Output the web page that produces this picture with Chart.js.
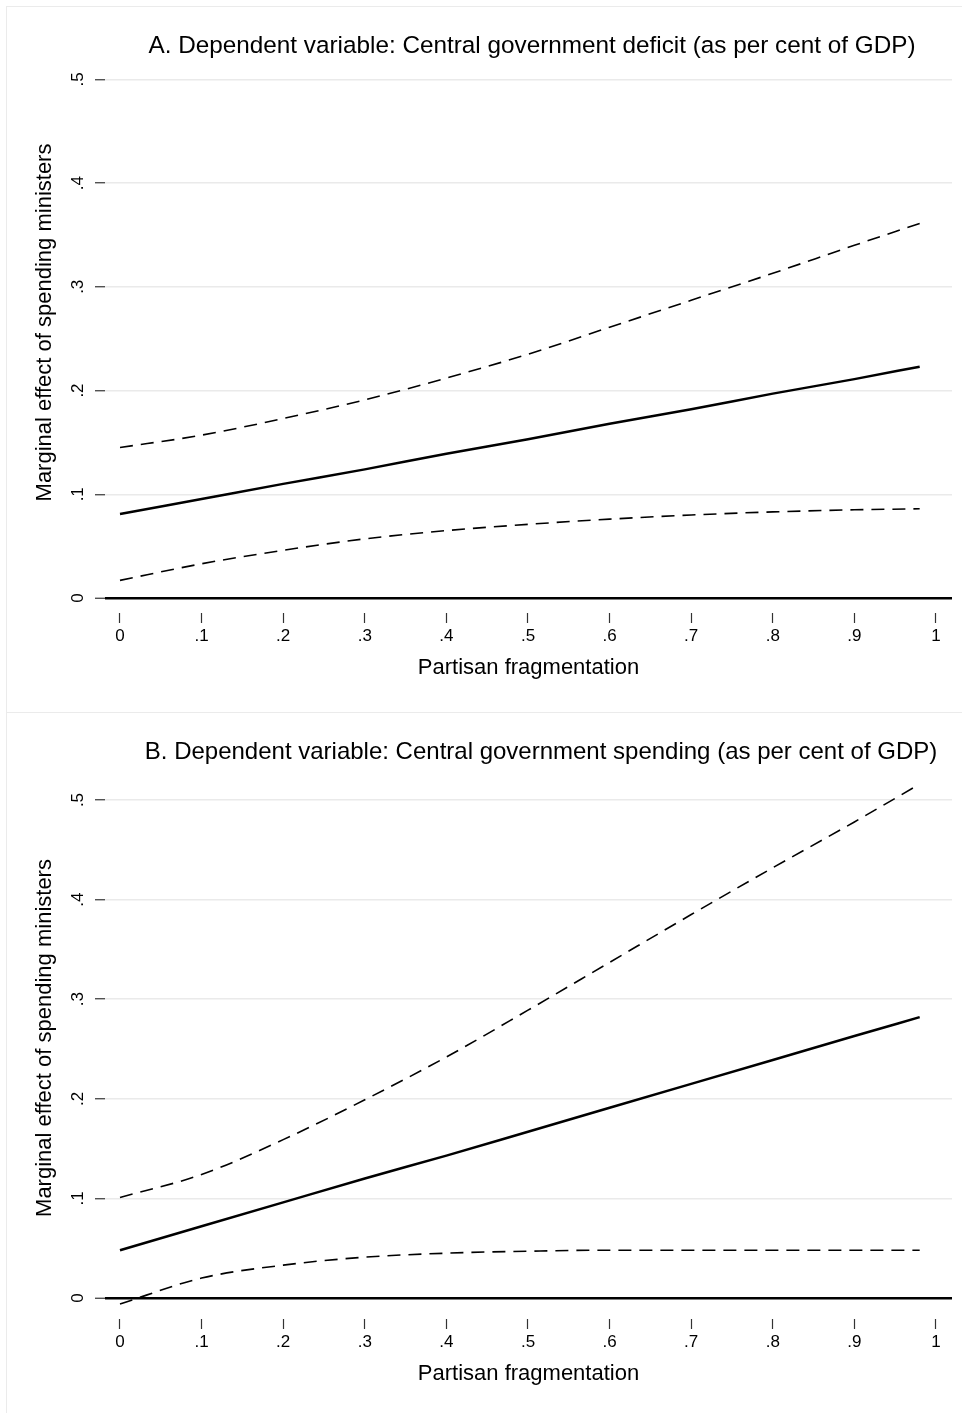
<!DOCTYPE html>
<html>
<head>
<meta charset="utf-8">
<title>Marginal effect of spending ministers</title>
<script src="https://cdn.jsdelivr.net/npm/chart.js@4.4.1/dist/chart.umd.min.js"></script>
<style>
  html, body { margin: 0; padding: 0; background: #fff; overflow: hidden; }
  body { width: 962px; height: 1413px; position: relative; }
  .frame { position: absolute; box-sizing: border-box; border: 1px solid #ebebeb; }
  #frameA { left: 6px; top: 6px; width: 980px; height: 707px; }
  #frameB { left: 6px; top: 712px; width: 980px; height: 720px; }
  canvas { position: absolute; left: 0; }
  #chartA { top: 0; }
  #chartB { top: 712px; }
</style>
</head>
<body>
<div class="frame" id="frameA"></div>
<div class="frame" id="frameB"></div>
<canvas id="chartA" width="962" height="712"></canvas>
<canvas id="chartB" width="962" height="701"></canvas>
<script>
// Partisan fragmentation values the effects were evaluated at
const fragX = [0, 0.1, 0.2, 0.3, 0.4, 0.5, 0.6, 0.7, 0.8, 0.9, 0.98];

// Panel A: deficit
const deficitEffect = [0.081, 0.0955, 0.110, 0.124, 0.139, 0.153, 0.168, 0.182, 0.197, 0.211, 0.223];
const deficitUpper = [0.145, 0.157, 0.173, 0.191, 0.212, 0.235, 0.261, 0.287, 0.313, 0.340, 0.361];
const deficitLower = [0.017, 0.033, 0.046, 0.057, 0.065, 0.071, 0.076, 0.080, 0.083, 0.085, 0.086];

// Panel B: spending
const spendingEffect = [0.048, 0.072, 0.096, 0.120, 0.143, 0.167, 0.191, 0.215, 0.239, 0.263, 0.282];
const spendingUpper = [0.101, 0.124, 0.159, 0.199, 0.242, 0.289, 0.337, 0.385, 0.432, 0.478, 0.516];
const spendingLower = [-0.006, 0.020, 0.033, 0.041, 0.045, 0.047, 0.048, 0.048, 0.048, 0.048, 0.048];

// Stata style tick labels
const xTicks = [0, 0.1, 0.2, 0.3, 0.4, 0.5, 0.6, 0.7, 0.8, 0.9, 1];
const xTickLabels = ['0', '.1', '.2', '.3', '.4', '.5', '.6', '.7', '.8', '.9', '1'];
const yTicks = [0, 0.1, 0.2, 0.3, 0.4, 0.5];
const yTickLabels = ['0', '.1', '.2', '.3', '.4', '.5'];

const FONT = "'Liberation Sans', Arial, Helvetica, sans-serif";

// draws the panel heading at a fixed spot above the plot
const panelTitle = {
  id: 'panelTitle',
  afterDraw(chart, args, opts) {
    const ctx = chart.ctx;
    ctx.save();
    ctx.font = opts.size + 'px ' + FONT;
    ctx.fillStyle = '#000';
    ctx.textAlign = 'center';
    ctx.textBaseline = 'middle';
    ctx.fillText(opts.text, opts.x, opts.y);
    ctx.restore();
  }
};

function toPoints(xs, ys) {
  return xs.map((x, i) => ({ x: x, y: ys[i] }));
}

function lineSet(values, dashed) {
  return {
    data: toPoints(fragX, values),
    borderColor: '#000',
    borderWidth: dashed ? 1.6 : 2.5,
    borderDash: dashed ? [13, 8] : [],
    pointRadius: 0,
    fill: false,
    tension: 0.4,
    cubicInterpolationMode: 'monotone'
  };
}

function buildPanel(id, p) {
  return new Chart(document.getElementById(id), {
    type: 'line',
    data: {
      datasets: [
        lineSet(p.upper, true),
        lineSet(p.effect, false),
        lineSet(p.lower, true)
      ]
    },
    options: {
      responsive: false,
      animation: false,
      devicePixelRatio: 1,
      layout: { padding: { top: p.areaTop, right: 10, bottom: 0, left: 0 } },
      plugins: {
        legend: { display: false },
        tooltip: { enabled: false },
        panelTitle: { text: p.title, x: p.titleX, y: p.titleY, size: p.titleSize }
      },
      scales: {
        x: {
          type: 'linear',
          min: -0.01838,
          max: 1.01961,
          afterBuildTicks: scale => { scale.ticks = xTicks.map(v => ({ value: v })); },
          afterFit: scale => { scale.height = p.xAxisHeight; },
          border: { display: false },
          grid: { drawOnChartArea: false, drawTicks: true, tickLength: 10, tickColor: '#333', tickWidth: 1.2 },
          ticks: {
            color: '#000',
            padding: 3,
            maxRotation: 0,
            autoSkip: false,
            font: { family: FONT, size: 17 },
            callback: (value, index) => xTickLabels[index]
          },
          title: {
            display: true,
            text: 'Partisan fragmentation',
            color: '#000',
            font: { family: FONT, size: 22, lineHeight: 1.2 },
            padding: { top: 0, bottom: p.xTitlePad }
          }
        },
        y: {
          min: p.yMin,
          max: p.yMax,
          afterBuildTicks: scale => { scale.ticks = yTicks.map(v => ({ value: v })); },
          afterFit: scale => { scale.width = 105; },
          border: { display: false },
          grid: {
            drawTicks: true,
            tickLength: 10,
            tickColor: '#333',
            tickWidth: 1.2,
            color: ctx => (ctx.tick && ctx.tick.value === 0 ? '#000' : '#eaeaea'),
            lineWidth: ctx => (ctx.tick && ctx.tick.value === 0 ? 2.5 : 1.5)
          },
          ticks: {
            color: '#000',
            padding: 10,
            minRotation: 90,
            maxRotation: 90,
            crossAlign: 'center',
            autoSkip: false,
            font: { family: FONT, size: 17 },
            callback: (value, index) => yTickLabels[index]
          },
          title: {
            display: true,
            text: 'Marginal effect of spending ministers',
            color: '#000',
            font: { family: FONT, size: 22, lineHeight: 1.2 },
            padding: { top: 32, bottom: 0 }
          }
        }
      }
    },
    plugins: [panelTitle]
  });
}

buildPanel('chartA', {
  title: 'A. Dependent variable: Central government deficit (as per cent of GDP)',
  titleX: 532, titleY: 46, titleSize: 24.3,
  effect: deficitEffect, upper: deficitUpper, lower: deficitLower,
  areaTop: 32, xAxisHeight: 99, xTitlePad: 31,
  yMin: -0.01446, yMax: 0.5456
});

buildPanel('chartB', {
  title: 'B. Dependent variable: Central government spending (as per cent of GDP)',
  titleX: 541, titleY: 40, titleSize: 24,
  effect: spendingEffect, upper: spendingUpper, lower: spendingLower,
  areaTop: 45, xAxisHeight: 94, xTitlePad: 26,
  yMin: -0.02108, yMax: 0.5432
});
</script>
</body>
</html>
